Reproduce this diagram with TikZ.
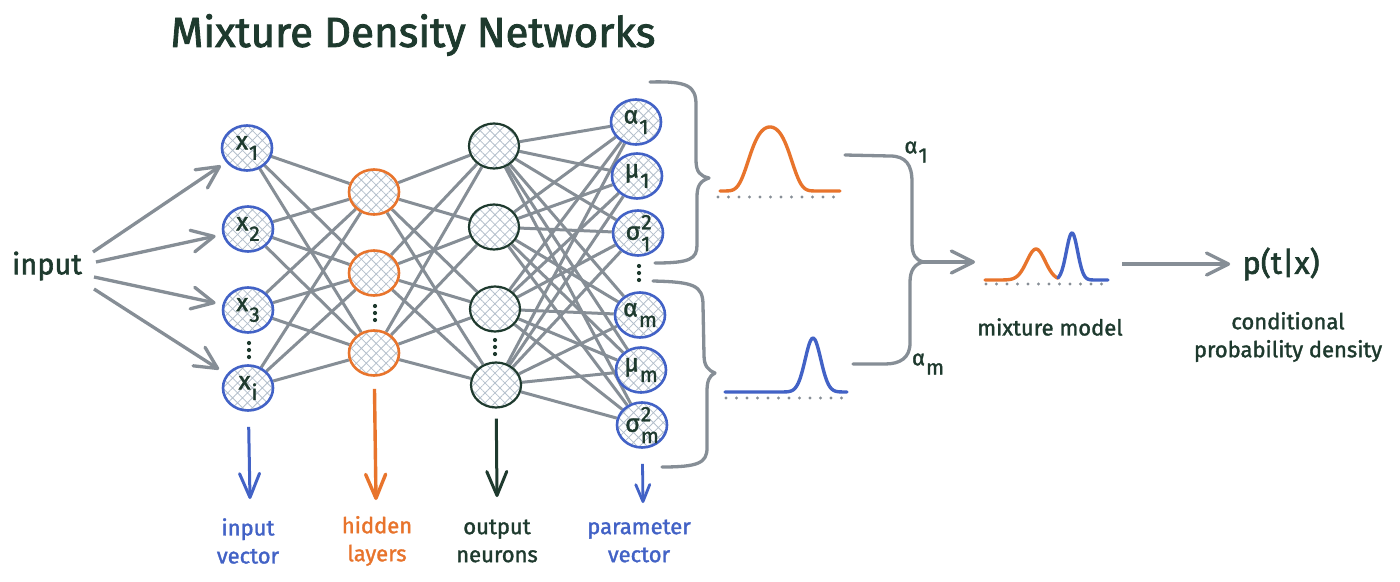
\documentclass[tikz,border=0pt]{standalone}
\usepackage{fontspec}
\setmainfont{Fira Sans}[FakeBold=1.2]
\usetikzlibrary{shapes.geometric,arrows.meta,patterns.meta}
\pgfdeclarelayer{bg}
\pgfsetlayers{bg,main}
\definecolor{ink}{HTML}{1E3A2E}
\definecolor{nblue}{HTML}{4262C6}
\definecolor{norange}{HTML}{E8742C}
\definecolor{lgray}{HTML}{868E96}
\definecolor{hatch}{HTML}{B4C0CC}
\newcommand\lblfont{\addfontfeature{FakeBold=1.5}\fontsize{25}{25}\selectfont}
\newcommand\subfont{\fontsize{21}{21}\selectfont}
\newcommand\labfont{\addfontfeature{FakeBold=1.5}\fontsize{22}{28}\selectfont}
\newcommand\nsub[2]{#1\kern1pt\raisebox{-0.42em}{\subfont #2}}
\newcommand\nsubsup[3]{#1\kern1pt\makebox[0pt][l]{\raisebox{0.42em}{\subfont #2}}\raisebox{-0.45em}{\subfont #3}}
\begin{document}
\begin{tikzpicture}[x=1pt,y=-1pt,
  neuron/.style={ellipse, minimum width=50pt, minimum height=45pt, inner sep=0pt, line width=2.6pt,
    preaction={fill=white}, pattern={Hatch[angle=45,distance=7pt,line width=0.8pt]}, pattern color=hatch},
  inpn/.style={neuron, draw=nblue},
  hidn/.style={neuron, draw=norange},
  outn/.style={neuron, draw=ink, line width=2.2pt},
  parn/.style={neuron, draw=nblue},
  nlab/.style={inner sep=0pt, font=\lblfont, text=ink},
  conn/.style={draw=lgray, line width=3pt},
  garrow/.style={draw=lgray, line width=3.3pt, -{Straight Barb[length=22pt,width=22pt,round]}},
  varrow/.style={line width=3pt, -{Straight Barb[length=24pt,width=20pt,round]}},
  dotline/.style={draw=lgray, line width=3.4pt, line cap=round, dash pattern=on 0pt off 10.5pt},
  curvel/.style={line width=3.4pt, line cap=round, line join=round},
  lab/.style={align=center, font=\labfont, inner sep=0pt},
  bracel/.style={draw=lgray, line width=3.3pt, line cap=round, line join=round},
]
\useasboundingbox (0,0) rectangle (1400,581);

% title
\node[font=\addfontfeature{FakeBold=2}\fontsize{42}{42}\selectfont, text=ink] (title) at (413,35) {Mixture Density Networks};

% input
\node[font=\addfontfeature{FakeBold=2}\fontsize{29}{29}\selectfont, text=ink] (inp) at (47,266) {input};
\coordinate (s1) at (93,252);
\coordinate (s2) at (96,262);
\coordinate (s3) at (94,277);
\coordinate (s4) at (94,289);

% input layer
\node[inpn, label={[nlab]center:\nsub{x}{1}}] (x1) at (247,148) {};
\node[inpn, label={[nlab]center:\nsub{x}{2}}] (x2) at (248,229) {};
\node[inpn, label={[nlab]center:\nsub{x}{3}}] (x3) at (248,310) {};
\node[inpn, label={[nlab]center:\nsub{x}{i}}] (xi) at (248,388) {};

% hidden layer
\node[hidn] (h1) at (374,192) {};
\node[hidn] (h2) at (374,273) {};
\node[hidn] (h3) at (374,353) {};

% output neurons
\node[outn] (o1) at (494,146) {};
\node[outn] (o2) at (494,227) {};
\node[outn] (o3) at (495,309) {};
\node[outn] (o4) at (496,385) {};

% parameter vector
\node[parn, label={[nlab]center:\nsub{α}{1}}] (p1) at (636,122) {};
\node[parn, label={[nlab]center:\nsub{μ}{1}}] (p2) at (637,176) {};
\node[parn, label={[nlab]center:\nsubsup{σ}{2}{1}}] (p3) at (638,233) {};
\node[parn, label={[nlab]center:\nsub{α}{m}}] (p4) at (640,315) {};
\node[parn, label={[nlab]center:\nsub{μ}{m}}] (p5) at (641,370) {};
\node[parn, label={[nlab]center:\nsubsup{σ}{2}{m}}] (p6) at (642,425) {};

% vertical dots
\foreach \cx/\cy in {249/350, 375/313, 495/347, 639/273}
  \foreach \d in {-7,0,7}
    \fill[ink] (\cx,\cy+\d) circle (2.1);

% connections
\begin{pgfonlayer}{bg}
\fill[white] (0,0) rectangle (1400,581);
\foreach \a in {x1,x2,x3,xi} \foreach \b in {h1,h2,h3} \draw[conn] (\a) -- (\b);
\foreach \a in {h1,h2,h3} \foreach \b in {o1,o2,o3,o4} \draw[conn] (\a) -- (\b);
\foreach \a in {o1,o2,o3,o4} \foreach \b in {p1,p2,p3,p4,p5,p6} \draw[conn] (\a) -- (\b);
\end{pgfonlayer}

% input arrows
\draw[garrow, shorten >=7pt] (s1) -- (x1);
\draw[garrow, shorten >=7pt] (s2) -- (x2);
\draw[garrow, shorten >=7pt] (s3) -- (x3);
\draw[garrow, shorten >=9pt] (s4) -- (xi);

% bottom labels and arrows
\node[lab, text=nblue] (li) at (248,541) {input\\vector};
\node[lab, text=norange] (lh) at (377,541) {hidden\\layers};
\node[lab, text=ink] (lo) at (497,541) {output\\neurons};
\node[lab, text=nblue] (lp) at (639,541) {parameter\\vector};
\coordinate (ei) at (250,499);
\coordinate (eh) at (376,500);
\coordinate (eo) at (497,497);
\coordinate (ep) at (643,503);
\draw[varrow, nblue, shorten <=15pt] (xi) -- (ei);
\draw[varrow, norange, line width=3.4pt, shorten <=12pt] (h3) -- (eh);
\draw[varrow, ink, shorten <=10pt] (o4) -- (eo);
\draw[nblue, line width=2.8pt, -{Straight Barb[length=17pt,width=14pt,round]}, shorten <=15pt] (p6) -- (ep);

% braces beside the parameter vector
\draw[bracel] (650,82) .. controls (688,81) and (696,86) .. (696,105)
  -- (696,160) .. controls (696,172) and (700,176) .. (709,178)
  .. controls (700,181) and (697,186) .. (697,197)
  -- (697,245) .. controls (697,259) and (690,263) .. (655,263);
\draw[bracel] (653,281) .. controls (693,282) and (703,285) .. (703,305)
  -- (704,355) .. controls (704,366) and (708,370) .. (715,373)
  .. controls (709,376) and (707,381) .. (707,392)
  -- (707,448) .. controls (707,463) and (698,467) .. (662,467);

% single component densities
\draw[curvel, norange] plot[domain=720:840, samples=81, smooth]
  (\x, {191-64*exp(-0.5*((\x-770)/24)*((\x-770)/24)*(1+((\x-770)/24)*((\x-770)/24)))});
\draw[dotline] (718,197) -- (842,197);
\draw[curvel, nblue] plot[domain=725:847, samples=81, smooth]
  (\x, {392-54*exp(-((\x-813)/11)*((\x-813)/11))});
\draw[dotline] (726,398) -- (847,398);

% right brace and arrow into mixture
\coordinate (rb) at (923,262);
\coordinate (mixin) at (975,262);
\draw[bracel] (845,155) -- (890,156) .. controls (906,156) and (912,165) .. (912,182)
  -- (912,243) .. controls (912,255) and (916,260) .. (rb);
\draw[bracel] (rb) .. controls (915,264) and (910,270) .. (910,282)
  -- (910,343) .. controls (910,358) and (900,364) .. (885,364) -- (853,364);
\draw[garrow] (rb) -- (mixin);
\node[nlab, font=\addfontfeature{FakeBold=1.5}\fontsize{22}{22}\selectfont] (a1) at (916,152) {\nsub{α}{1}};
\node[nlab, font=\addfontfeature{FakeBold=1.5}\fontsize{22}{22}\selectfont] (am) at (928,364) {\nsub{α}{m}};

% mixture model
\draw[curvel, norange] plot[domain=985:1058, samples=61, smooth]
  (\x, {280-31*exp(-((\x-1036)/13)*((\x-1036)/13))});
\draw[curvel, nblue] plot[domain=1058:1108, samples=61, smooth]
  (\x, {280-47*exp(-((\x-1072)/8)*((\x-1072)/8))});
\draw[dotline] (986,284) -- (1108,284);
\node[lab, text=ink] (mixlab) at (1050,327) {mixture model};

% output p(t|x)
\coordinate (mixout) at (1122,264);
\node[font=\addfontfeature{FakeBold=2}\fontsize{31}{31}\selectfont, text=ink, inner sep=0pt] (ptx) at (1281,264) {p(t|x)};
\draw[garrow, shorten >=12pt] (mixout) -- (ptx);
\node[lab, text=ink] (cond) at (1288,337) {conditional\\probability density};
\end{tikzpicture}
\end{document}
